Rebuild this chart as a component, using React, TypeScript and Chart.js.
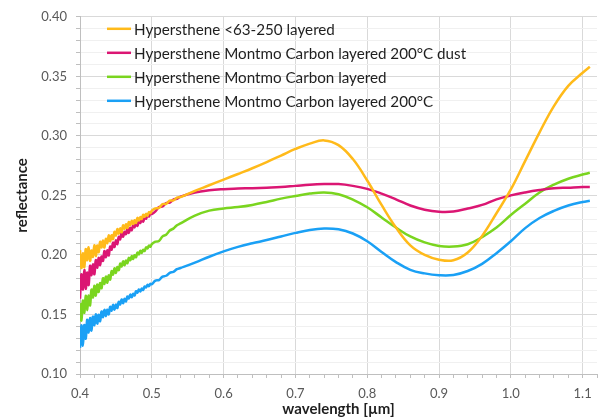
import React, { useEffect, useRef } from "react";
import { Chart, registerables } from "chart.js";

Chart.register(...registerables);

// wavelength grid [µm]
const wavelengths: number[] = [
  0.400, 0.402, 0.404, 0.406, 0.408, 0.410, 0.412, 0.414, 0.416, 0.418,
  0.420, 0.422, 0.424, 0.426, 0.428, 0.430, 0.432, 0.434, 0.436, 0.438,
  0.440, 0.442, 0.444, 0.446, 0.448, 0.450, 0.452, 0.454, 0.456, 0.458,
  0.460, 0.462, 0.464, 0.466, 0.468, 0.470, 0.472, 0.474, 0.476, 0.478,
  0.480, 0.482, 0.484, 0.486, 0.488, 0.490, 0.492, 0.494, 0.496, 0.498,
  0.500, 0.505, 0.510, 0.515, 0.520, 0.525, 0.530, 0.535, 0.540,
  0.56, 0.58, 0.60, 0.62, 0.64, 0.66, 0.68, 0.70, 0.72, 0.74,
  0.76, 0.78, 0.80, 0.82, 0.84, 0.86, 0.88, 0.90, 0.92, 0.94,
  0.96, 0.98, 1.00, 1.02, 1.04, 1.06, 1.08, 1.10, 1.11,
];

const seriesLabels: string[] = [
  "Hypersthene <63-250 layered",
  "Hypersthene Montmo Carbon layered 200°C dust",
  "Hypersthene Montmo Carbon layered",
  "Hypersthene Montmo Carbon layered 200°C",
];

const hyperstheneLayered: number[] = [
  0.2040, 0.1890, 0.2014, 0.1897, 0.2049, 0.1955, 0.2064, 0.1950, 0.2037, 0.1983,
  0.2082, 0.1990, 0.2079, 0.2023, 0.2110, 0.2063, 0.2122, 0.2062, 0.2135, 0.2099,
  0.2164, 0.2114, 0.2166, 0.2132, 0.2194, 0.2163, 0.2217, 0.2179, 0.2223, 0.2190,
  0.2248, 0.2220, 0.2257, 0.2226, 0.2277, 0.2249, 0.2286, 0.2259, 0.2292, 0.2269,
  0.2311, 0.2289, 0.2318, 0.2302, 0.2337, 0.2320, 0.2345, 0.2330, 0.2360, 0.2351,
  0.2371, 0.2391, 0.2395, 0.2427, 0.2429, 0.2456, 0.2458, 0.2481, 0.2486,
  0.2538, 0.2585, 0.2633, 0.2680, 0.2728, 0.2780, 0.2835, 0.2890, 0.2935, 0.2962,
  0.2922, 0.2805, 0.2625, 0.2420, 0.2230, 0.2080, 0.2000, 0.1960, 0.1955, 0.2020,
  0.2160, 0.2350, 0.2550, 0.2790, 0.3030, 0.3250, 0.3420, 0.3530, 0.3580,
];

const montmoCarbon200Dust: number[] = [
  0.1632, 0.1836, 0.1710, 0.1874, 0.1716, 0.1852, 0.1747, 0.1909, 0.1830, 0.1921,
  0.1838, 0.1956, 0.1893, 0.1975, 0.1914, 0.1987, 0.1950, 0.2032, 0.1981, 0.2039,
  0.1996, 0.2071, 0.2044, 0.2103, 0.2066, 0.2122, 0.2091, 0.2152, 0.2131, 0.2187,
  0.2152, 0.2195, 0.2174, 0.2220, 0.2185, 0.2228, 0.2207, 0.2249, 0.2232, 0.2270,
  0.2244, 0.2282, 0.2268, 0.2300, 0.2280, 0.2313, 0.2304, 0.2336, 0.2322, 0.2348,
  0.2344, 0.2365, 0.2402, 0.2407, 0.2436, 0.2440, 0.2465, 0.2472, 0.2490,
  0.2525, 0.2543, 0.2552, 0.2557, 0.2561, 0.2565, 0.2570, 0.2580, 0.2590, 0.2595,
  0.2595, 0.2580, 0.2555, 0.2515, 0.2467, 0.2415, 0.2380, 0.2363, 0.2365, 0.2390,
  0.2420, 0.2467, 0.2500, 0.2525, 0.2545, 0.2560, 0.2565, 0.2570, 0.2570,
];

const montmoCarbon: number[] = [
  0.1595, 0.1448, 0.1616, 0.1514, 0.1657, 0.1535, 0.1658, 0.1576, 0.1709, 0.1642,
  0.1740, 0.1658, 0.1751, 0.1689, 0.1764, 0.1720, 0.1804, 0.1757, 0.1818, 0.1766,
  0.1828, 0.1793, 0.1864, 0.1834, 0.1887, 0.1849, 0.1899, 0.1871, 0.1927, 0.1903,
  0.1946, 0.1913, 0.1953, 0.1930, 0.1975, 0.1955, 0.1990, 0.1966, 0.1998, 0.1981,
  0.2019, 0.2005, 0.2034, 0.2017, 0.2044, 0.2033, 0.2064, 0.2055, 0.2079, 0.2068,
  0.2090, 0.2111, 0.2118, 0.2156, 0.2170, 0.2205, 0.2221, 0.2249, 0.2265,
  0.2330, 0.2372, 0.2390, 0.2402, 0.2420, 0.2445, 0.2473, 0.2495, 0.2515, 0.2525,
  0.2510, 0.2465, 0.2400, 0.2315, 0.2230, 0.2155, 0.2105, 0.2075, 0.2070, 0.2090,
  0.2150, 0.2230, 0.2335, 0.2430, 0.2525, 0.2590, 0.2640, 0.2675, 0.2690,
];

const montmoCarbon200: number[] = [
  0.1220, 0.1409, 0.1238, 0.1412, 0.1296, 0.1455, 0.1348, 0.1471, 0.1364, 0.1482,
  0.1410, 0.1502, 0.1423, 0.1497, 0.1443, 0.1525, 0.1478, 0.1539, 0.1486, 0.1540,
  0.1500, 0.1564, 0.1532, 0.1581, 0.1540, 0.1583, 0.1554, 0.1607, 0.1584, 0.1626,
  0.1595, 0.1631, 0.1609, 0.1651, 0.1634, 0.1667, 0.1644, 0.1674, 0.1659, 0.1695,
  0.1683, 0.1710, 0.1693, 0.1717, 0.1706, 0.1735, 0.1727, 0.1749, 0.1738, 0.1758,
  0.1754, 0.1784, 0.1789, 0.1818, 0.1825, 0.1850, 0.1858, 0.1880, 0.1890,
  0.1935, 0.1985, 0.2030, 0.2068, 0.2098, 0.2125, 0.2155, 0.2185, 0.2210, 0.2222,
  0.2215, 0.2180, 0.2115, 0.2025, 0.1940, 0.1875, 0.1845, 0.1830, 0.1832, 0.1865,
  0.1925, 0.2015, 0.2115, 0.2225, 0.2310, 0.2370, 0.2415, 0.2445, 0.2455,
];

const seriesValues: number[][] = [
  hyperstheneLayered,
  montmoCarbon200Dust,
  montmoCarbon,
  montmoCarbon200,
];
const seriesColors: string[] = ["#FFBA1A", "#DB1673", "#7AD51F", "#1AA0F5"];

const FONT = "Lato, 'Open Sans', 'DejaVu Sans', sans-serif";

const insideLegend = {
  id: "insideLegend",
  afterDraw(chart: any) {
    const { ctx, chartArea } = chart;
    ctx.save();
    ctx.font = `15.2px ${FONT}`;
    ctx.textBaseline = "middle";
    ctx.textAlign = "left";
    chart.data.datasets.forEach((ds: any, i: number) => {
      const y = chartArea.top + 12 + i * 24;
      const x0 = chartArea.left + 27;
      ctx.strokeStyle = ds.borderColor;
      ctx.lineWidth = 2.5;
      ctx.beginPath();
      ctx.moveTo(x0, y);
      ctx.lineTo(x0 + 24, y);
      ctx.stroke();
      ctx.fillStyle = "#1f1f1f";
      ctx.fillText(ds.label, x0 + 27, y + 1);
    });
    ctx.restore();
  },
};

const isMultiple = (v: number, step: number) =>
  Math.abs(v / step - Math.round(v / step)) < 1e-6;

export default function App() {
  const canvasRef = useRef<HTMLCanvasElement | null>(null);

  useEffect(() => {
    if (!canvasRef.current) return;
    const datasets = seriesLabels.map((label, i) => ({
      label,
      data: wavelengths.map((x, j) => ({ x, y: seriesValues[i][j] })),
      borderColor: seriesColors[i],
      backgroundColor: seriesColors[i],
      borderWidth: 2.5,
      pointRadius: 0,
      tension: 0.4,
      fill: false,
    }));

    const chart = new Chart(canvasRef.current, {
      type: "line",
      data: { datasets },
      options: {
        responsive: false,
        animation: false,
        layout: { padding: { top: 14, right: 2, left: 0, bottom: 0 } },
        plugins: {
          legend: { display: false },
          tooltip: { enabled: false },
        },
        scales: {
          x: {
            type: "linear",
            min: 0.4,
            max: 1.12,
            afterFit: (s: any) => {
              s.height = 46;
            },
            ticks: {
              stepSize: 0.02,
              autoSkip: false,
              maxRotation: 0,
              minRotation: 0,
              padding: 8,
              color: "#595959",
              font: { family: FONT, size: 13 },
              callback: (v: any) => (isMultiple(Number(v), 0.1) ? Number(v).toFixed(1) : ""),
            },
            grid: {
              color: (c: any) =>
                c.tick && isMultiple(c.tick.value, 0.1) ? "#d9d9d9" : "rgba(0,0,0,0)",
              tickColor: "#bfbfbf",
              tickLength: 4,
            },
            border: { color: "#bfbfbf", width: 1 },
            title: {
              display: true,
              text: "wavelength [µm]",
              color: "#1f1f1f",
              font: { family: FONT, size: 15, weight: "bold" },
              padding: { top: 0, bottom: 2 },
            },
          },
          y: {
            type: "linear",
            min: 0.1,
            max: 0.4,
            afterFit: (s: any) => {
              s.width = 80;
            },
            ticks: {
              stepSize: 0.01,
              autoSkip: false,
              padding: 9,
              color: "#595959",
              font: { family: FONT, size: 13 },
              callback: (v: any) => (isMultiple(Number(v), 0.05) ? Number(v).toFixed(2) : ""),
            },
            grid: {
              color: (c: any) =>
                c.tick && isMultiple(c.tick.value, 0.05) ? "#d9d9d9" : "#f0f0f0",
              tickColor: "#bfbfbf",
              tickLength: 4,
            },
            border: { color: "#bfbfbf", width: 1 },
            title: {
              display: true,
              text: "reflectance",
              color: "#1f1f1f",
              font: { family: FONT, size: 15, weight: "bold" },
              padding: { top: 13, bottom: 0 },
            },
          },
        },
      },
      plugins: [insideLegend],
    });
    return () => chart.destroy();
  }, []);

  return (
    <div style={{ position: "absolute", left: 0, top: 0, width: 605, height: 420 }}>
      <canvas ref={canvasRef} width={605} height={420} style={{ display: "block" }} />
    </div>
  );
}
